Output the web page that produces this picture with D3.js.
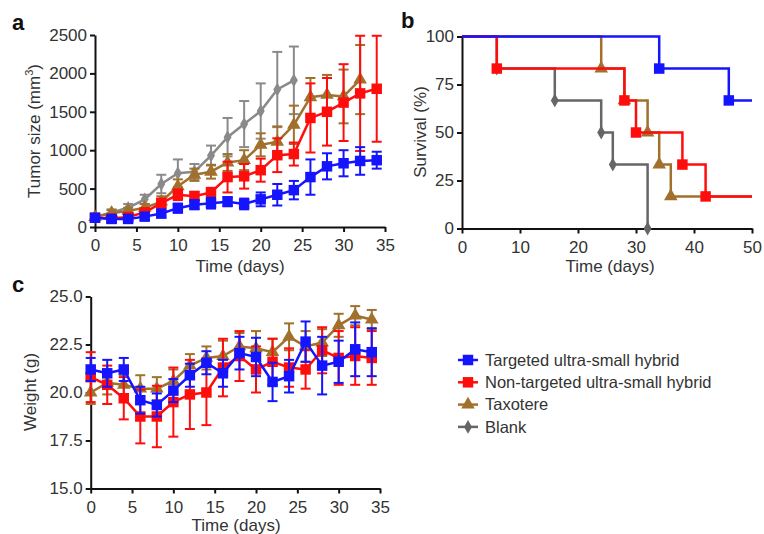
<!DOCTYPE html>
<html>
<head>
<meta charset="utf-8">
<script src="https://cdn.jsdelivr.net/npm/d3@7"></script>
<style>
  body { margin: 0; background: #fff; }
  svg text { font-family: "Liberation Sans", Arial, sans-serif; fill: #333; }
</style>
</head>
<body>
<div id="chart"></div>
<script>
// ---- data ----
const tumorDays = [0, 2, 4, 6, 8, 10, 12, 14, 16, 18, 20, 22, 24, 26, 28, 30, 32, 34];
const tumorTargeted    = [120, 105, 105, 135, 175, 245, 290, 310, 330, 300, 360, 420, 480, 650, 790, 830, 860, 870];
const tumorTargetedErr = [40, 35, 35, 40, 50, 60, 60, 70, 60, 70, 90, 140, 120, 230, 170, 170, 180, 110];
const tumorNonTarg     = [120, 110, 130, 190, 310, 420, 400, 450, 650, 660, 740, 935, 950, 1420, 1500, 1620, 1740, 1800];
const tumorNonTargErr  = [40, 40, 40, 50, 60, 70, 60, 60, 200, 160, 150, 220, 150, 450, 440, 500, 750, 690];
const tumorTaxotere    = [130, 180, 210, 250, 330, 530, 680, 720, 840, 870, 1070, 1110, 1330, 1690, 1720, 1700, 1920];
const tumorTaxotereErr = [30, 40, 40, 50, 70, 90, 80, 90, 110, 130, 150, 200, 250, 250, 260, 350, 450];
const tumorBlank       = [130, 190, 250, 360, 560, 700, 720, 930, 1170, 1340, 1510, 1790, 1910];
const tumorBlankErr    = [30, 40, 50, 60, 120, 180, 100, 130, 250, 300, 360, 490, 440];

const survTargetedT = [0, 34, 46, 50];
const survTargeted  = [100, 83.3, 66.7, 66.7];
const survNonTargT  = [0, 6, 28, 30, 38, 42, 50];
const survNonTarg   = [100, 83.3, 66.7, 50, 33.3, 16.7, 16.7];
const survTaxT      = [0, 24, 28, 32, 34, 36, 50];
const survTax       = [100, 83.3, 66.7, 50, 33.3, 16.7, 16.7];
const survBlankT    = [0, 6, 16, 24, 26, 32];
const survBlank     = [100, 83.3, 66.7, 50, 33.3, 0];

const weightDays = tumorDays;
const weightTargeted    = [21.2, 21.0, 21.2, 19.6, 19.35, 20.1, 20.9, 21.55, 21.0, 22.05, 21.85, 20.55, 20.85, 22.65, 21.4, 21.6, 22.25, 22.1];
const weightTargetedErr = [0.6, 0.7, 0.6, 0.7, 0.6, 0.6, 0.6, 0.6, 0.7, 0.85, 1.0, 1.0, 0.85, 1.05, 1.5, 1.1, 1.4, 1.25];
const weightNonTarg     = [20.8, 20.4, 19.7, 18.75, 18.75, 19.5, 19.9, 20.0, 21.3, 21.9, 21.2, 21.6, 21.3, 21.2, 22.2, 21.8, 21.9, 21.8];
const weightNonTargErr  = [1.3, 1.0, 1.1, 1.4, 1.6, 1.8, 1.8, 1.7, 1.5, 1.3, 1.2, 1.2, 1.0, 1.0, 1.2, 1.4, 1.5, 1.4];
const weightTaxotere    = [20.0, 20.5, 20.4, 20.2, 20.2, 20.6, 21.4, 21.8, 21.9, 22.4, 22.3, 22.1, 22.9, 22.4, 22.6, 23.5, 24.0, 23.8];
const weightTaxotereErr = [0.6, 0.6, 0.5, 0.7, 0.6, 0.6, 0.6, 0.6, 0.8, 0.7, 0.9, 0.7, 0.7, 0.8, 0.7, 0.6, 0.5, 0.5];

const legendLabels = ["Targeted ultra-small hybrid", "Non-targeted ultra-small hybrid", "Taxotere", "Blank"];

const BLUE = "#1414ff", RED = "#ff0d0d", BROWN = "#a0702c", GREY = "#8a8a8a", DGREY = "#666";

const svg = d3.select("#chart").append("svg")
  .attr("width", 764).attr("height", 534);

function marker(type) {
  if (type === "square") return d3.symbol(d3.symbolSquare, 110)();
  if (type === "triangle") return d3.symbol(d3.symbolTriangle, 80)();
  return d3.symbol(d3.symbolDiamond, 55)();
}

function styleAxis(g) {
  g.select(".domain").attr("stroke", "#111").attr("stroke-width", 2);
  g.selectAll(".tick line").attr("stroke", "#111").attr("stroke-width", 2);
  g.selectAll(".tick text").attr("font-size", 17).attr("fill", "#333");
}

function axes(x, y, yTicks, yFmt, xTicks) {
  const [x0] = x.range(), [y0] = y.range();
  svg.append("g").attr("transform", `translate(0,${y0})`)
    .call(d3.axisBottom(x).tickValues(xTicks).tickSize(5).tickSizeOuter(0).tickPadding(7))
    .call(styleAxis);
  svg.append("g").attr("transform", `translate(${x0},0)`)
    .call(d3.axisLeft(y).tickValues(yTicks).tickFormat(yFmt).tickSize(5).tickSizeOuter(0).tickPadding(3))
    .call(styleAxis);
}

function errorSeries(x, y, xs, vs, es, color, shape) {
  const g = svg.append("g");
  const line = d3.line().x((d, i) => x(xs[i])).y(d => y(d));
  g.append("path").datum(vs).attr("d", line)
    .attr("fill", "none").attr("stroke", color).attr("stroke-width", 2.5);
  vs.forEach((v, i) => {
    const cx = x(xs[i]);
    g.append("line").attr("x1", cx).attr("x2", cx)
      .attr("y1", y(v - es[i])).attr("y2", y(v + es[i]))
      .attr("stroke", color).attr("stroke-width", 2);
    [v - es[i], v + es[i]].forEach(b => {
      g.append("line").attr("x1", cx - 5).attr("x2", cx + 5)
        .attr("y1", y(b)).attr("y2", y(b))
        .attr("stroke", color).attr("stroke-width", 2);
    });
  });
  g.selectAll("path.mk").data(vs).join("path").attr("class", "mk")
    .attr("d", marker(shape))
    .attr("transform", (d, i) => `translate(${x(xs[i])},${y(d)})`)
    .attr("fill", color);
}

function stepSeries(x, y, ts, vs, color, shape) {
  const pts = ts.map((t, i) => [t, vs[i]]);
  svg.append("path").datum(pts)
    .attr("d", d3.line().x(d => x(d[0])).y(d => y(d[1])).curve(d3.curveStepAfter))
    .attr("fill", "none").attr("stroke", color).attr("stroke-width", 2.5);
  svg.append("g").selectAll("path").data(pts.slice(1).filter((d, i) => i < pts.length - 2 || d[1] !== pts[pts.length - 2][1]))
    .join("path").attr("d", marker(shape))
    .attr("transform", d => `translate(${x(d[0])},${y(d[1])})`)
    .attr("fill", color);
}

function label(txt, xp, yp, rot) {
  return svg.append("text").attr("font-size", 17).attr("text-anchor", "middle")
    .attr("transform", `translate(${xp},${yp})` + (rot ? " rotate(-90)" : ""))
    .text(txt);
}

function panelLetter(txt, xp, yp) {
  svg.append("text").attr("x", xp).attr("y", yp).attr("font-size", 22)
    .attr("font-weight", "bold").style("fill", "#111").text(txt);
}

// ---- panel a ----
{
  const x = d3.scaleLinear().domain([0, 35]).range([95, 385]);
  const y = d3.scaleLinear().domain([0, 2500]).range([227, 35]);
  axes(x, y, [0, 500, 1000, 1500, 2000, 2500], d3.format("d"), [0, 5, 10, 15, 20, 25, 30, 35]);
  errorSeries(x, y, tumorDays, tumorBlank, tumorBlankErr, GREY, "diamond");
  errorSeries(x, y, tumorDays, tumorTaxotere, tumorTaxotereErr, BROWN, "triangle");
  errorSeries(x, y, tumorDays, tumorNonTarg, tumorNonTargErr, RED, "square");
  errorSeries(x, y, tumorDays, tumorTargeted, tumorTargetedErr, BLUE, "square");
  const t = label("", 40, 131, true);
  t.append("tspan").text("Tumor size (mm");
  t.append("tspan").text("3").attr("font-size", 11).attr("dy", -7);
  t.append("tspan").text(")").attr("dy", 7);
  label("Time (days)", 240, 272);
  panelLetter("a", 12, 30);
}

// ---- panel b ----
{
  const x = d3.scaleLinear().domain([0, 50]).range([462, 752]);
  const y = d3.scaleLinear().domain([0, 100]).range([228.5, 36.5]);
  axes(x, y, [0, 25, 50, 75, 100], d3.format("d"), [0, 10, 20, 30, 40, 50]);
  stepSeries(x, y, survBlankT, survBlank, DGREY, "diamond");
  stepSeries(x, y, survTaxT, survTax, BROWN, "triangle");
  stepSeries(x, y, survNonTargT, survNonTarg, RED, "square");
  stepSeries(x, y, survTargetedT, survTargeted, BLUE, "square");
  label("Survival (%)", 426, 132, true);
  label("Time (days)", 610, 272);
  panelLetter("b", 401, 28);
}

// ---- panel c ----
{
  const x = d3.scaleLinear().domain([0, 35]).range([90.7, 380]);
  const y = d3.scaleLinear().domain([15, 25]).range([488.5, 296.5]);
  axes(x, y, [15, 17.5, 20, 22.5, 25], d3.format(".1f"), [0, 5, 10, 15, 20, 25, 30, 35]);
  errorSeries(x, y, weightDays, weightTaxotere, weightTaxotereErr, BROWN, "triangle");
  errorSeries(x, y, weightDays, weightNonTarg, weightNonTargErr, RED, "square");
  errorSeries(x, y, weightDays, weightTargeted, weightTargetedErr, BLUE, "square");
  label("Weight (g)", 36, 392, true);
  label("Time (days)", 236, 531);
  panelLetter("c", 12, 292);
}

// ---- legend ----
{
  const colors = [BLUE, RED, BROWN, DGREY];
  const shapes = ["square", "square", "triangle", "diamond"];
  const lg = svg.append("g").attr("transform", "translate(458,360)");
  legendLabels.forEach((name, i) => {
    const row = lg.append("g").attr("transform", `translate(0,${i * 22.3})`);
    row.append("line").attr("x1", 0).attr("x2", 20).attr("stroke", colors[i]).attr("stroke-width", 2.5);
    row.append("path").attr("d", marker(shapes[i])).attr("transform", "translate(10,0)").attr("fill", colors[i]);
    row.append("text").attr("x", 27).attr("dy", "0.35em").attr("font-size", 16.5).text(name);
  });
}
</script>
</body>
</html>
